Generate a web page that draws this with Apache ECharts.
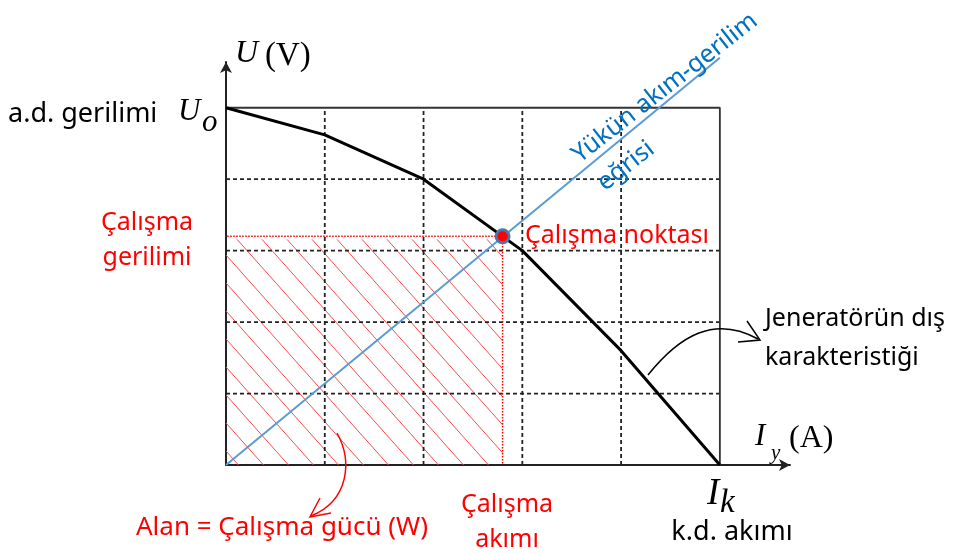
<!DOCTYPE html>
<html><head><meta charset="utf-8">
<script src="https://cdn.jsdelivr.net/npm/echarts@6/dist/echarts.min.js"></script>
<style>html,body{margin:0;padding:0;background:#fff}#c{width:955px;height:553px}</style>
</head><body><div id="c"></div>
<script>
// ---- data ----
const gridTicksX = [1, 2, 3, 4];
const gridTicksY = [1, 2, 3, 4];
const gridMaxX = 5;
const gridMaxY = 5;
const genCurrent = [0, 1, 2, 3, 4, 5];
const genVoltage = [5, 4.62, 4, 3, 1.6, 0];
const loadCurrent = [0, 5.0];
const loadVoltage = [0, 5.7];
const opCurrent = 2.8;
const opVoltage = 3.2;
const guideStart = -0.17;
const axisMaxX = 5.71;
const axisMaxY = 5.64;

const SANS = '"Noto Sans", sans-serif';
const SERIF = '"Liberation Serif", "DejaVu Serif", serif';
const RED = '#ff0000';

const chart = echarts.init(document.getElementById('c'), null, {renderer: 'canvas'});

const gridSegs = gridTicksX.map(x => [x, 0, x, gridMaxY])
  .concat(gridTicksY.map(y => [0, y, gridMaxX, y]));

function txt(x, y, text, o) {
  o = o || {};
  const st = Object.assign({
    text: text, x: 0, y: 0, fill: '#000',
    font: '25px ' + SANS,
    align: 'left', textAlign: 'left',
    verticalAlign: 'middle', textVerticalAlign: 'middle'
  }, o.style || {});
  if (st.align) st.textAlign = st.align;
  return {type: 'text', x: x, y: y, z: 100, rotation: o.rotation || 0, silent: true, style: st};
}

const rot = 38 * Math.PI / 180;

const option = {
  animation: false,
  backgroundColor: '#fff',
  grid: {left: 226, top: 62, width: 564, height: 403},
  xAxis: {
    type: 'value', min: 0, max: axisMaxX,
    axisLine: {show: true, onZero: false, symbol: ['none', 'arrow'], symbolSize: [9, 11],
      lineStyle: {color: '#222', width: 2}},
    axisTick: {show: false}, axisLabel: {show: false}, splitLine: {show: false}
  },
  yAxis: {
    type: 'value', min: 0, max: axisMaxY,
    axisLine: {show: true, onZero: false, symbol: ['none', 'arrow'], symbolSize: [9, 11],
      lineStyle: {color: '#222', width: 2}},
    axisTick: {show: false}, axisLabel: {show: false}, splitLine: {show: false}
  },
  series: [
    { // hatched power area
      type: 'custom', z: 1, silent: true, clip: false,
      data: [[0, 0, opCurrent, opVoltage]],
      renderItem: function (params, api) {
        const p0 = api.coord([api.value(0), api.value(3)]);
        const p1 = api.coord([api.value(2), api.value(1)]);
        const x0 = p0[0], y0 = p0[1] + 3, x1 = p1[0], y1 = p1[1];
        const dx = 25, dy = 28;
        const children = [];
        const span = (y1 - y0) * dx / dy;
        let s = x0 + 11 - Math.ceil((span + 11) / dx) * dx;
        for (; s < x1; s += dx) {
          const tmin = Math.max(0, (x0 - s) / dx);
          const tmax = Math.min((y1 - y0) / dy, (x1 - s) / dx);
          if (tmax > tmin) {
            children.push({type: 'line', shape: {x1: s + tmin * dx, y1: y0 + tmin * dy, x2: s + tmax * dx, y2: y0 + tmax * dy},
              style: {stroke: '#ff4a4a', lineWidth: 1}});
          }
        }
        return {type: 'group', children: children};
      }
    },
    { // dashed grid
      type: 'custom', z: 2, silent: true,
      data: gridSegs,
      renderItem: function (params, api) {
        const a = api.coord([api.value(0), api.value(1)]);
        const b = api.coord([api.value(2), api.value(3)]);
        return {type: 'line', shape: {x1: a[0], y1: a[1], x2: b[0], y2: b[1]},
          style: {stroke: '#222', lineWidth: 1.8, lineDash: [4, 3]}};
      }
    },
    { // solid border top/right
      type: 'line', z: 3, silent: true, showSymbol: false, symbol: 'none',
      data: [[0, gridMaxY], [gridMaxX, gridMaxY], [gridMaxX, 0]],
      lineStyle: {color: '#333', width: 1.8}
    },
    { // load line
      type: 'line', z: 4, silent: true, showSymbol: false, symbol: 'none', clip: false,
      data: loadCurrent.map((x, i) => [x, loadVoltage[i]]),
      lineStyle: {color: '#5b9bd5', width: 2}
    },
    { // generator external characteristic
      type: 'line', z: 5, silent: true, showSymbol: false, symbol: 'none',
      data: genCurrent.map((x, i) => [x, genVoltage[i]]),
      lineStyle: {color: '#000', width: 3}
    },
    { // red dotted guides
      type: 'line', z: 6, silent: true, showSymbol: false, symbol: 'none', clip: false,
      data: [[guideStart, opVoltage], [opCurrent, opVoltage], [opCurrent, 0]],
      lineStyle: {color: RED, width: 1.5, type: [1.5, 1.5]}
    },
    { // operating point
      type: 'scatter', z: 10, silent: true,
      data: [[opCurrent, opVoltage]],
      symbolSize: 13,
      itemStyle: {color: RED, borderColor: '#4a76a8', borderWidth: 3, opacity: 1}
    }
  ],
  graphic: [
    txt(8, 114, 'a.d. gerilimi', {style: {font: '27px ' + SANS}}),
    txt(178, 112, 'U', {style: {font: 'italic 31px ' + SERIF}}),
    txt(202, 123, 'o', {style: {font: 'italic 31px ' + SERIF}}),
    txt(235, 54, 'U', {style: {font: 'italic 32px ' + SERIF}}),
    txt(265, 56, '(V)', {style: {font: '33px ' + SERIF}}),
    txt(147, 240, 'Çalışma\ngerilimi', {style: {fill: RED, align: 'center', lineHeight: 35}}),
    txt(525, 236, 'Çalışma noktası', {style: {fill: RED}}),
    txt(507, 522, 'Çalışma\nakımı', {style: {fill: RED, align: 'center', lineHeight: 35}}),
    txt(282, 528, 'Alan = Çalışma gücü (W)', {style: {fill: RED, align: 'center', font: '26px ' + SANS}}),
    txt(765, 338, 'Jeneratörün dış\nkarakteristiği', {style: {lineHeight: 39}}),
    txt(755, 437, 'I', {style: {font: 'italic 31px ' + SERIF}}),
    txt(771, 453, 'y', {style: {font: 'italic 21px ' + SERIF}}),
    txt(789, 439, '(A)', {style: {font: '32px ' + SERIF}}),
    txt(707, 494, 'I', {style: {font: 'italic 37px ' + SERIF}}),
    txt(720, 503, 'k', {style: {font: 'italic 33px ' + SERIF}}),
    txt(732, 532, 'k.d. akımı', {style: {align: 'center', font: '27px ' + SANS}}),
    txt(665, 88, 'Yükün akım-gerilim', {rotation: rot, style: {fill: '#0070c0', align: 'center'}}),
    txt(626, 166, 'eğrisi', {rotation: rot, style: {fill: '#0070c0', align: 'center'}}),
    {type: 'bezierCurve', z: 100, silent: true,
      shape: {x1: 648, y1: 375, cpx1: 680, cpy1: 335, cpx2: 715, cpy2: 315, x2: 758, y2: 339},
      style: {stroke: '#000', lineWidth: 1.5, fill: null}},
    {type: 'polyline', z: 100, silent: true,
      shape: {points: [[747, 321], [760, 340], [738, 342]]},
      style: {stroke: '#000', lineWidth: 1.5, fill: null}},
    {type: 'bezierCurve', z: 100, silent: true,
      shape: {x1: 337, y1: 433, cpx1: 352, cpy1: 460, cpx2: 350, cpy2: 500, x2: 311, y2: 516},
      style: {stroke: RED, lineWidth: 1.5, fill: null}},
    {type: 'polyline', z: 100, silent: true,
      shape: {points: [[320, 498], [310, 517], [331, 513]]},
      style: {stroke: RED, lineWidth: 1.5, fill: null}}
  ]
};
chart.setOption(option);
</script>
</body></html>
